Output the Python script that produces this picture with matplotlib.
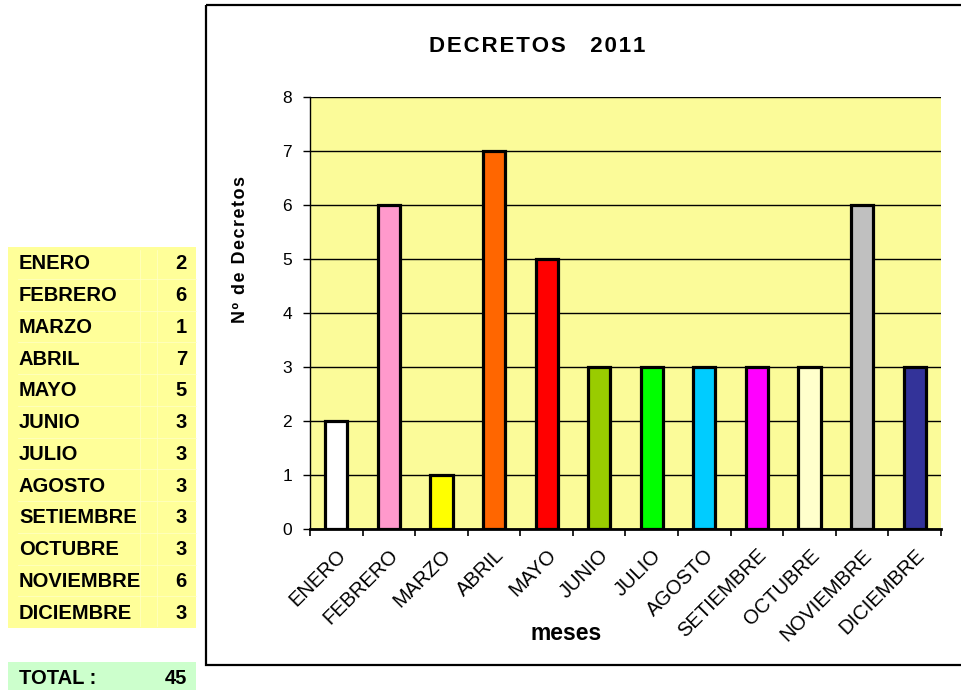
import matplotlib
matplotlib.use("Agg")
import matplotlib.pyplot as plt
from matplotlib.patches import Rectangle

meses = ["ENERO", "FEBRERO", "MARZO", "ABRIL", "MAYO", "JUNIO", "JULIO",
         "AGOSTO", "SETIEMBRE", "OCTUBRE", "NOVIEMBRE", "DICIEMBRE"]
decretos = [2, 6, 1, 7, 5, 3, 3, 3, 3, 3, 6, 3]
colores = ["#FFFFFF", "#FF99CC", "#FFFF00", "#FF6600", "#FF0000", "#99CC00",
           "#00FF00", "#00CCFF", "#FF00FF", "#FFFFCC", "#C0C0C0", "#333399"]
yticks = list(range(0, 9))

plt.rcParams['font.family'] = ['Liberation Sans', 'DejaVu Sans']


def spaced(s, sep="\u200a"):
    return sep.join(s)


W, H = 962, 691
fig = plt.figure(figsize=(W / 100, H / 100), dpi=100)
fig.patch.set_facecolor("white")

ov = fig.add_axes([0, 0, 1, 1])
ov.set_xlim(0, W)
ov.set_ylim(H, 0)
ov.axis("off")

# chart frame
ov.add_patch(Rectangle((206, 5), 770, 660, fill=False, edgecolor="black", lw=1.6))

# table
ov.add_patch(Rectangle((8, 247), 188, 381, facecolor="#FFFF99", edgecolor="none"))
row_h = 381 / 12
for i, (m, v) in enumerate(zip(meses, decretos)):
    yc = 247 + row_h * (i + 0.5) + 1
    if i > 0:
        ov.plot([18, 196], [247 + row_h * i] * 2, color="#FFFFC8", lw=0.5)
    ov.text(19, yc, m, fontsize=14.5, fontweight="bold", va="center", ha="left")
    ov.text(187, yc, str(v), fontsize=14.5, fontweight="bold", va="center", ha="right")
for xv in (140, 157):
    ov.plot([xv, xv], [250, 626], color="#FFFFC8", lw=0.5)
ov.add_patch(Rectangle((8, 662), 188, 28, facecolor="#CCFFCC", edgecolor="none"))
ov.text(19, 678, "TOTAL :", fontsize=14.5, fontweight="bold", va="center", ha="left")
ov.text(187, 678, str(sum(decretos)), fontsize=14.5, fontweight="bold", va="center", ha="right")

# title
ov.text(537, 46, spaced("DECRETOS") + "    " + spaced("2011"),
        fontsize=16, fontweight="bold", ha="center", va="center")
# axis labels
ov.text(241, 249, spaced("Nº de Decretos"),
        fontsize=13, fontweight="bold", ha="center", va="center", rotation=90)
ov.text(566, 634, "meses", fontsize=16.5, fontweight="bold", ha="center", va="center")

# main chart
ax = fig.add_axes([310 / W, 1 - 529 / H, 631 / W, 432 / H])
ax.set_facecolor("#FBFB99")
x = list(range(len(meses)))
ax.set_axisbelow(True)
ax.yaxis.grid(True, color="black", lw=1.0)
ax.bar(x, decretos, width=0.42, color=colores, edgecolor="black", linewidth=2.3, zorder=3)
ax.set_xlim(-0.5, len(meses) - 0.5)
ax.set_ylim(0, 8)
ax.set_yticks(yticks)
ax.set_yticklabels([str(t) for t in yticks], fontsize=12.5)
ax.set_xticks(x)
ax.set_xticklabels(meses, rotation=45, ha="right", rotation_mode="anchor", fontsize=14.5)
ax.tick_params(axis="x", length=0, pad=12)
ax.set_xticks([i - 0.5 for i in range(len(meses) + 1)], minor=True)
ax.tick_params(axis="x", which="minor", length=5, width=1.2, direction="out")
ax.tick_params(axis="y", length=5, width=1.0, direction="out", pad=8)
for s in ("top", "right"):
    ax.spines[s].set_visible(False)
ax.spines["left"].set_linewidth(1.0)
ax.spines["bottom"].set_linewidth(2.0)

fig.savefig("out.png", dpi=100)
